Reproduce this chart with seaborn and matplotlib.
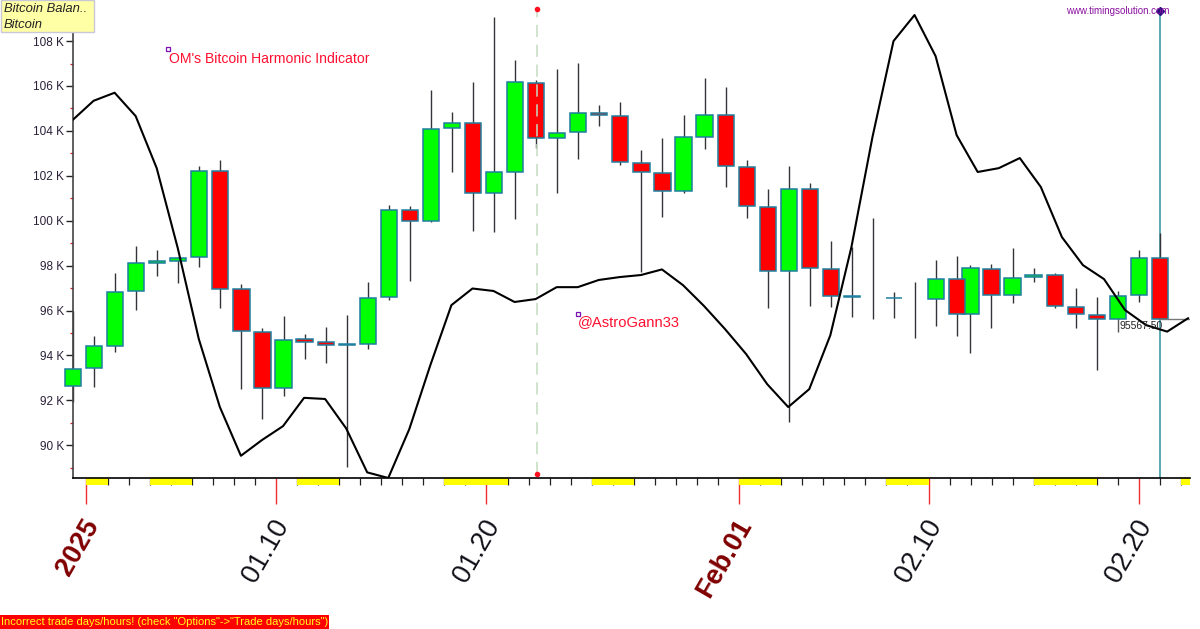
import numpy as np
import pandas as pd
import matplotlib
matplotlib.use("Agg")
import matplotlib.pyplot as plt
from matplotlib.patches import Rectangle
from matplotlib.transforms import ScaledTranslation
import seaborn as sns

# days are counted from 2025-01-01, prices in thousands
open_price = [92.65, 93.42, 94.43, 96.85, 98.13, 98.22, 98.37, 102.20, 96.94, 95.05,
              92.56, 94.71, 94.58, 94.46, 94.52, 96.58, 100.47, 99.98, 104.11, 104.35,
              101.22, 102.15, 106.14, 103.67, 103.93, 104.81, 104.67, 102.55, 102.11, 101.32,
              103.74, 104.72, 102.39, 100.59, 97.74, 101.41, 97.86, 96.60, np.nan, 96.54,
              np.nan, 96.52, 97.41, 95.83, 97.86, 96.67, 97.49, 97.58, 96.15, 95.78,
              95.62, 96.67, 98.32]
close_price = [93.38, 94.40, 96.81, 98.11, 98.21, 98.33, 102.20, 96.97, 95.10, 92.56,
               94.68, 94.58, 94.46, 94.50, 96.57, 100.47, 99.98, 104.07, 104.35, 101.22,
               102.15, 106.16, 103.67, 103.89, 104.79, 104.72, 102.60, 102.15, 101.33, 103.71,
               104.72, 102.43, 100.64, 97.74, 101.41, 97.89, 96.64, 96.63, np.nan, 96.57,
               np.nan, 97.41, 95.83, 97.88, 96.67, 97.46, 97.58, 96.18, 95.83, 95.62,
               96.63, 98.32, 95.62]
high_price = [95.97, 94.86, 97.68, 98.87, 98.69, 98.40, 102.45, 102.70, 97.18, 95.22,
              95.75, 94.95, 95.26, 95.80, 97.25, 100.68, 100.65, 105.82, 104.85, 106.20,
              109.06, 107.14, 106.26, 106.77, 107.02, 105.14, 105.30, 103.15, 103.68, 104.69,
              106.35, 105.94, 102.70, 101.39, 102.45, 101.68, 99.11, 98.84, 100.12, 96.81,
              97.25, 98.25, 98.41, 98.01, 98.05, 98.77, 97.88, 97.67, 96.99, 96.61,
              96.87, 98.69, 99.43]
low_price = [91.92, 92.59, 94.13, 96.02, 97.53, 97.23, 97.95, 96.11, 92.51, 91.16,
             92.19, 93.85, 93.64, 89.01, 94.29, 96.46, 97.32, 99.92, 102.18, 99.52,
             99.49, 100.09, 103.23, 101.24, 102.74, 104.21, 102.49, 97.70, 100.17, 101.24,
             103.19, 101.48, 100.13, 96.11, 91.03, 96.21, 96.17, 95.69, 95.60, 95.65,
             94.76, 95.32, 94.87, 94.09, 95.23, 96.34, 97.28, 96.09, 95.20, 93.36,
             95.62, 96.39, 95.62]
# the sessions after Feb 11 sit on a slightly shifted time grid
candle_day = [-0.64 + i for i in range(43)] + [41.99 + i for i in range(10)]

harmonic = [104.48, 105.34, 105.70, 104.66, 102.34, 98.78, 94.73, 91.70, 89.53, 90.23,
            90.85, 92.11, 92.06, 90.75, 88.79, 88.54, 90.72, 93.57, 96.24, 96.98,
            96.87, 96.38, 96.51, 97.04, 97.04, 97.36, 97.49, 97.58, 97.83, 97.13,
            96.20, 95.17, 94.06, 92.72, 91.70, 92.50, 94.90, 98.82, 103.72, 108.00,
            109.16, 107.33, 103.81, 102.17, 102.34, 102.79, 101.50, 99.27, 98.02, 97.40,
            96.02, 95.35, 95.06, 95.66]
harmonic_day = [-0.665 + i for i in range(54)]

weekend_start = [0, 3, 10, 17, 24, 31, 38, 45, 52]
weekend_end = [1, 5, 12, 20, 26, 33, 40, 48, 52.42]

date_ticks = [0, 9, 19, 31, 40, 50]
date_labels = ["2025", "01.10", "01.20", "Feb.01", "02.10", "02.20"]
bold_dates = ["2025", "Feb.01"]
price_ticks = list(range(90, 109, 2))
price_labels = [f"{p} K" for p in price_ticks]

cursor_day = 21.40
last_day = 51.0
last_close = 95.62

sns.set_theme(style="white")
plt.rcParams["font.family"] = ["Liberation Sans", "DejaVu Sans"]

df = pd.DataFrame({"day": candle_day, "open": open_price, "close": close_price,
                   "high": high_price, "low": low_price})
up = df[df["close"] >= df["open"]]
down = df[df["close"] < df["open"]]
line_df = pd.DataFrame({"day": harmonic_day, "value": harmonic})

fig = plt.figure(figsize=(12, 6.29), dpi=100)
ax = fig.add_axes([72.5 / 1200, 151 / 629, 1117.5 / 1200, 478 / 629])
ax.set_xlim(-0.665, 52.42)
ax.set_ylim(88.54, 109.83)

# marker lines go behind the candles, except the dashed cursor
ax.vlines(last_day, 88.54, 109.38, color="#2f8f9f", lw=1.1, zorder=1)
ax.vlines(df["day"], df["low"], df["high"], color="#33333a", lw=1.0, zorder=2, clip_on=False)
for part, col in ((up, "#00ff00"), (down, "#ff0000")):
    ax.bar(part["day"], part["close"] - part["open"], bottom=part["open"], width=0.77,
           color=col, edgecolor="#1f7f9f", linewidth=1.1, zorder=3, clip_on=False)
ax.vlines(cursor_day, 88.71, 109.43, color="#c4dcc0", lw=1.1, linestyles=(0, (8, 5)), zorder=4)
ax.plot([cursor_day, cursor_day], [88.71, 109.43], ls="none", marker="o", ms=3, color="#ff1020", zorder=5)

sns.lineplot(data=line_df, x="day", y="value", color="black", lw=1.5, ax=ax, zorder=6, sort=False)
ax.set_xlabel("")
ax.set_ylabel("")

# last price callout
ax.plot([last_day, 52.38], [last_close, last_close], color="#777777", lw=1, zorder=5)
ax.vlines(49.0, 95.05, last_close, color="#555555", lw=1, zorder=5)
ax.text(49.07, 95.31, "95567.50", fontsize=7.5, color="#222222", va="center", zorder=7)
ax.plot([last_day], [109.33], ls="none", marker="D", ms=4.5, color="#2a1080", zorder=7, clip_on=False)
ax.text(51.46, 109.33, "www.timingsolution.com", fontsize=7.0, color="#8a10a0", ha="right", va="center", zorder=7)

# red notes with their small anchor squares
ax.plot([3.86, 23.35], [107.65, 95.84], ls="none", marker="s", ms=3.2, mfc="white", mec="#7a10b0", mew=0.9, zorder=7)
ax.text(3.93, 107.22, "OM's Bitcoin Harmonic Indicator", fontsize=10.1, color="#ff1030", va="center", zorder=7)
ax.text(23.35, 95.48, "@AstroGann33", fontsize=10.6, color="#ff1030", va="center", zorder=7)

# weekend strip under the axis
strip = ax.get_xaxis_transform()
for a, b in zip(weekend_start, weekend_end):
    ax.add_patch(Rectangle((a, -7 / 478), b - a, 7 / 478, transform=strip, clip_on=False,
                           fc="#ffff00", ec="none", zorder=1))

ax.set_xticks(date_ticks)
ax.set_xticklabels(date_labels, rotation=60, ha="right", va="center", rotation_mode="anchor", fontsize=19.5)
ax.set_xticks(range(0, 53), minor=True)
ax.tick_params(axis="x", which="major", bottom=True, length=18.7, width=1.0, color="#f03030", pad=12.5)
ax.tick_params(axis="x", which="minor", bottom=True, length=5, width=0.9, color="#222222")
offset = ScaledTranslation(7 / 100, 0, fig.dpi_scale_trans)
for lab in ax.get_xticklabels():
    lab.set_transform(lab.get_transform() + offset)
    if lab.get_text() in bold_dates:
        lab.set_fontweight("bold")
        lab.set_color("#800000")
    else:
        lab.set_color("#101018")

ax.set_yticks(price_ticks)
ax.set_yticklabels(price_labels, fontsize=8.5, color="#2a2038")
ax.set_yticks(range(89, 110, 2), minor=True)
ax.tick_params(axis="y", which="major", left=True, length=5, width=1.0, color="#222222", pad=1)
ax.tick_params(axis="y", which="minor", left=True, length=2.5, width=0.9, color="#d02020")

sns.despine(ax=ax)
ax.spines["left"].set_color("#444444")
ax.spines["left"].set_linewidth(1.2)
ax.spines["bottom"].set_color("black")
ax.spines["bottom"].set_linewidth(1.2)
ax.patch.set_alpha(0)

# title tag, top left
fig.add_artist(Rectangle((1 / 1200, 1 - 32 / 629), 93 / 1200, 32 / 629, transform=fig.transFigure,
                         fc="#ffffa6", ec="#c8c8d8", lw=1, zorder=10))
fig.text(4 / 1200, 1 - 9 / 629, "Bitcoin Balan..", fontsize=9.4, style="italic", color="#222222", va="center", zorder=11)
fig.text(4 / 1200, 1 - 25 / 629, "Bitcoin", fontsize=9.4, style="italic", color="#222222", va="center", zorder=11)

# warning strip, bottom left
fig.add_artist(Rectangle((0, 0), 329 / 1200, 14 / 629, transform=fig.transFigure, fc="#ff0000", ec="none", zorder=10))
fig.text(1 / 1200, 7 / 629, 'Incorrect trade days/hours! (check "Options"->"Trade days/hours")',
         fontsize=8.0, color="#ffff20", va="center", zorder=11)

fig.savefig("out.png", dpi=100, facecolor="white")
